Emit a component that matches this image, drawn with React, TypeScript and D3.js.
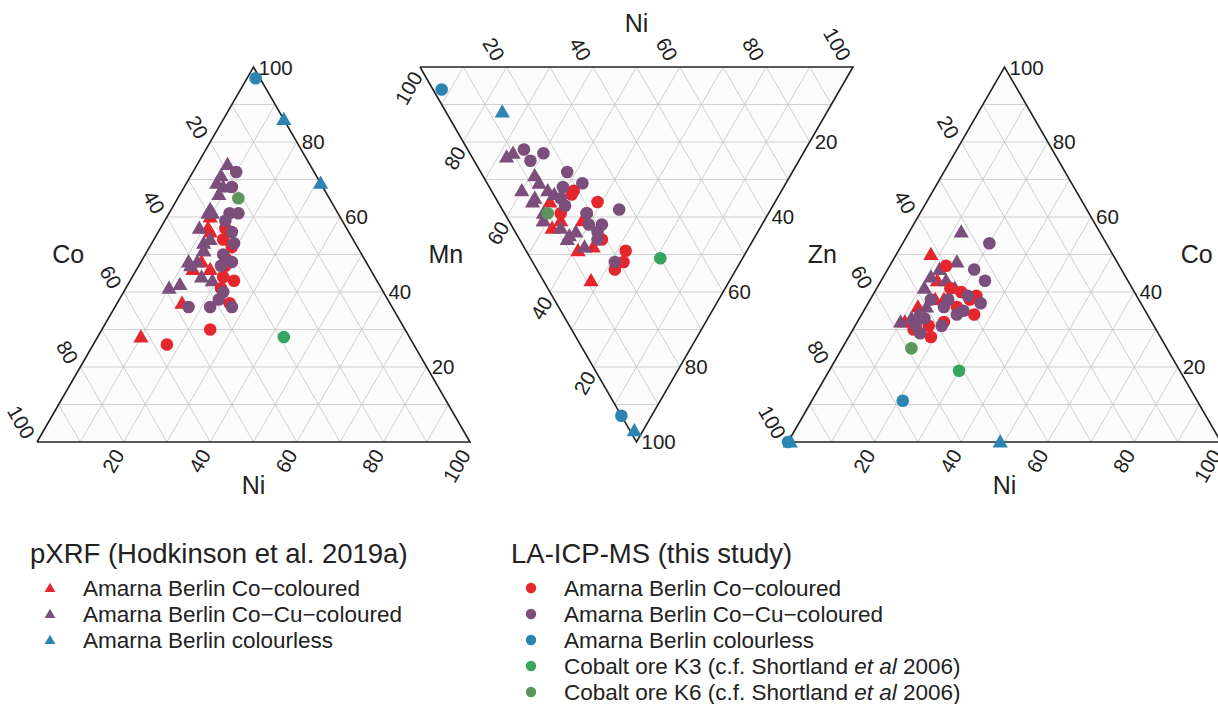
import React from "react";
import * as d3 from "d3";

type Comp = [number, number, number];

// ---------- Plot 1: components ordered [Co, Ni, Mn] ----------
const p1Components = ["Co", "Ni", "Mn"];
const p1PxrfCo: Comp[] = [[30,10,60],[32,11,57],[32,12,56],[36,13,51],[38,14,48],[41,13,46],[37,17,46],[48,15,37],[62,10,28]];
const p1PxrfCoCu: Comp[] = [[19,7,74],[22,7,71],[25,9,66],[23,9,68],[29,9,62],[30,9,61],[35,12,53],[33,13,54],[36,13,51],[41,11,48],[41,12,47],[40,16,44],[49,10,41],[46,12,42],[38,19,43],[39,13,48],[29,10,61],[24,7,69],[34,9,57]];
const p1PxrfColourless: Comp[] = [[0,14,86],[0,31,69]];
const p1IcpCo: Comp[] = [[28,15,57],[29,19,52],[32,19,49],[33,20,47],[35,21,44],[33,24,43],[37,22,41],[37,26,37],[45,25,30],[57,17,26],[30,16,54]];
const p1IcpCoCu: Comp[] = [[18,10,72],[21,11,68],[25,14,61],[23,16,61],[27,17,56],[28,19,53],[32,18,50],[34,19,47],[37,23,40],[42,22,36],[37,27,36],[47,17,36],[39,23,38],[27,14,59],[31,21,48]];
const p1IcpColourless: Comp[] = [[1,2,97]];
const p1OreK3: Comp[] = [[29,43,28]];
const p1OreK6: Comp[] = [[21,14,65]];

// ---------- Plot 2: components ordered [Mn, Ni, Zn] ----------
const p2Components = ["Mn", "Ni", "Zn"];
const p2PxrfCo: Comp[] = [[52,12,36],[47,12,41],[42,17,41],[48,9,43],[39,12,49],[36,16,48],[32,11,57],[51,8,41]];
const p2PxrfCoCu: Comp[] = [[68,8,24],[67,10,23],[59,12,29],[57,12,31],[60,7,33],[56,9,35],[54,13,33],[56,8,36],[52,9,39],[51,8,41],[52,14,34],[46,11,43],[43,11,46],[42,14,44],[38,14,48],[43,12,45]];
const p2PxrfColourless: Comp[] = [[75,13,12],[2,1,97]];
const p2IcpCo: Comp[] = [[48,19,33],[48,18,34],[41,23,36],[42,19,39],[48,13,39],[35,19,46],[28,23,49],[27,21,52],[28,18,54]];
const p2IcpCoCu: Comp[] = [[65,13,22],[62,13,25],[60,17,23],[52,20,28],[47,22,31],[51,17,32],[50,15,35],[48,15,37],[35,27,38],[42,19,39],[40,18,42],[37,21,42],[37,19,44],[36,18,46],[29,19,52]];
const p2IcpColourless: Comp[] = [[92,2,6],[7,0,93]];
const p2OreK3: Comp[] = [[19,30,51]];
const p2OreK6: Comp[] = [[51,10,39]];

// ---------- Plot 3: components ordered [Zn, Ni, Co] ----------
const p3Components = ["Zn", "Ni", "Co"];
const p3PxrfCo: Comp[] = [[42,8,50],[44,13,43],[47,15,38],[45,17,38],[52,12,36],[57,11,32]];
const p3PxrfCoCu: Comp[] = [[32,12,56],[37,15,48],[45,11,44],[42,15,43],[48,11,41],[41,18,41],[50,14,36],[55,12,33],[58,10,32],[53,13,34],[42,12,46]];
const p3PxrfColourless: Comp[] = [[51,49,0],[99.5,0.5,0]];
const p3IcpCo: Comp[] = [[40,13,47],[39,23,38],[37,24,39],[40,26,34],[43,21,36],[48,20,32],[52,17,31],[53,19,28],[40,20,40],[42,17,41],[56,14,30]];
const p3IcpCoCu: Comp[] = [[27,20,53],[34,20,46],[33,24,43],[39,22,39],[37,26,37],[44,22,34],[49,20,31],[55,16,29],[44,18,38],[42,23,35],[48,14,38],[46,18,36],[52,15,33],[55,14,31]];
const p3IcpColourless: Comp[] = [[68,21,11],[100,0,0]];
const p3OreK3: Comp[] = [[51,30,19]];
const p3OreK6: Comp[] = [[59,16,25]];

const tickValues = [20, 40, 60, 80, 100];
const gridValues = [10, 20, 30, 40, 50, 60, 70, 80, 90];

const pxrfTitle = "pXRF (Hodkinson et al. 2019a)";
const pxrfLabels = ["Amarna Berlin Co\u2212coloured", "Amarna Berlin Co\u2212Cu\u2212coloured", "Amarna Berlin colourless"];
const icpTitle = "LA-ICP-MS (this study)";
const icpLabels = ["Amarna Berlin Co\u2212coloured", "Amarna Berlin Co\u2212Cu\u2212coloured", "Amarna Berlin colourless", "Cobalt ore K3 (c.f. Shortland ", "Cobalt ore K6 (c.f. Shortland "];

const COL = {
  red: "#e5262d",
  purple: "#7b4e7b",
  blue: "#2b84b1",
  k3: "#36a55e",
  k6: "#5b965c",
};

const FONT = "'Liberation Sans', Arial, Helvetica, sans-serif";
const TEXT = "#222";

const SIDE = 433;
const H = SIDE * Math.sqrt(3) / 2;

type TickSpec = { edgeTo: number; rot: number; dx: number; dy: number; anchor: string };
type PlotSpec = {
  comps: string[];
  left: number;
  unitVerts: [number, number][];
  ticks: TickSpec[];
  titles: [number, number][];
  showTitle: boolean[];
  series: { data: Comp[]; shape: "tri" | "circ"; color: string }[];
};

const plots: PlotSpec[] = [
  {
    comps: p1Components, left: 37,
    unitVerts: [[0, 0], [1, 0], [0.5, 1]],
    ticks: [
      { edgeTo: 2, rot: 60, dx: -7, dy: -5, anchor: "end" },
      { edgeTo: 0, rot: -60, dx: -5, dy: 9, anchor: "end" },
      { edgeTo: 1, rot: 0, dx: 5, dy: 0, anchor: "start" },
    ],
    titles: [[-77, 0], [0, 43], [84, 0]],
    showTitle: [true, true, true],
    series: [
      { data: p1PxrfCo, shape: "tri", color: COL.red },
      { data: p1PxrfCoCu, shape: "tri", color: COL.purple },
      { data: p1PxrfColourless, shape: "tri", color: COL.blue },
      { data: p1IcpCo, shape: "circ", color: COL.red },
      { data: p1IcpCoCu, shape: "circ", color: COL.purple },
      { data: p1IcpColourless, shape: "circ", color: COL.blue },
      { data: p1OreK3, shape: "circ", color: COL.k3 },
      { data: p1OreK6, shape: "circ", color: COL.k6 },
    ],
  },
  {
    comps: p2Components, left: 420,
    unitVerts: [[0, 1], [1, 1], [0.5, 0]],
    ticks: [
      { edgeTo: 2, rot: -60, dx: -3, dy: 6, anchor: "end" },
      { edgeTo: 0, rot: 60, dx: -7, dy: -8, anchor: "end" },
      { edgeTo: 1, rot: 0, dx: 5, dy: 0, anchor: "start" },
    ],
    titles: [[-83, 0], [0, -44], [77, 0]],
    // Mn and Zn titles coincide with those of the neighbouring plots
    showTitle: [false, true, false],
    series: [
      { data: p2PxrfCo, shape: "tri", color: COL.red },
      { data: p2PxrfCoCu, shape: "tri", color: COL.purple },
      { data: p2PxrfColourless, shape: "tri", color: COL.blue },
      { data: p2IcpCo, shape: "circ", color: COL.red },
      { data: p2IcpCoCu, shape: "circ", color: COL.purple },
      { data: p2IcpColourless, shape: "circ", color: COL.blue },
      { data: p2OreK3, shape: "circ", color: COL.k3 },
      { data: p2OreK6, shape: "circ", color: COL.k6 },
    ],
  },
  {
    comps: p3Components, left: 788,
    unitVerts: [[0, 0], [1, 0], [0.5, 1]],
    ticks: [
      { edgeTo: 2, rot: 60, dx: -7, dy: -5, anchor: "end" },
      { edgeTo: 0, rot: -60, dx: -5, dy: 9, anchor: "end" },
      { edgeTo: 1, rot: 0, dx: 5, dy: 0, anchor: "start" },
    ],
    titles: [[-74, 0], [0, 43], [84, 0]],
    showTitle: [true, true, true],
    series: [
      { data: p3PxrfCo, shape: "tri", color: COL.red },
      { data: p3PxrfCoCu, shape: "tri", color: COL.purple },
      { data: p3PxrfColourless, shape: "tri", color: COL.blue },
      { data: p3IcpCo, shape: "circ", color: COL.red },
      { data: p3IcpCoCu, shape: "circ", color: COL.purple },
      { data: p3IcpColourless, shape: "circ", color: COL.blue },
      { data: p3OreK3, shape: "circ", color: COL.k3 },
      { data: p3OreK6, shape: "circ", color: COL.k6 },
    ],
  },
];

const TOP = 67;
const triPath = d3.symbol().type(d3.symbolTriangle).size(100)();
const legendTriPath = d3.symbol().type(d3.symbolTriangle).size(50)();

function Ternary({ spec }: { spec: PlotSpec }) {
  const xs = d3.scaleLinear().domain([0, 1]).range([spec.left, spec.left + SIDE]);
  const ys = d3.scaleLinear().domain([0, 1]).range([TOP + H, TOP]);
  const V = spec.unitVerts.map(([u, v]) => [xs(u), ys(v)] as [number, number]);
  const proj = (c: number[]): [number, number] => {
    const s = c[0] + c[1] + c[2];
    const w = c.map((d) => d / s);
    return [
      w[0] * V[0][0] + w[1] * V[1][0] + w[2] * V[2][0],
      w[0] * V[0][1] + w[1] * V[1][1] + w[2] * V[2][1],
    ];
  };
  const comp = (k: number, val: number, other: number): number[] => {
    const c = [0, 0, 0];
    c[k] = val;
    c[other] = 100 - val;
    return c;
  };
  const line = d3.line();
  const grid: [number, number][][] = [];
  for (let k = 0; k < 3; k++) {
    const others = [0, 1, 2].filter((i) => i !== k);
    for (const g of gridValues) {
      grid.push([proj(comp(k, g, others[0])), proj(comp(k, g, others[1]))]);
    }
  }
  return (
    <g>
      <path d={line([...V, V[0]]) || ""} fill="#fcfcfc" stroke="none" />
      {grid.map((seg, i) => (
        <path key={i} d={line(seg) || ""} stroke="#c4c4c4" strokeWidth={0.8} fill="none" />
      ))}
      <path d={line([...V, V[0]]) || ""} fill="none" stroke="#222" strokeWidth={1.6} strokeLinejoin="miter" />
      {spec.ticks.map((t, k) =>
        tickValues.map((v) => {
          const p = proj(comp(k, v, t.edgeTo));
          const x = p[0] + t.dx;
          const y = p[1] + t.dy;
          return (
            <text key={`${k}-${v}`} transform={`translate(${x},${y}) rotate(${t.rot})`}
              textAnchor={t.anchor} dominantBaseline="central" fontSize={20.5} fill={TEXT} fontFamily={FONT}>
              {v}
            </text>
          );
        })
      )}
      {spec.ticks.map((t, k) => {
        if (!spec.showTitle[k]) return null;
        const a = proj(comp(k, 100, t.edgeTo));
        const b = proj(comp(k, 0, t.edgeTo));
        const mx = (a[0] + b[0]) / 2 + spec.titles[k][0];
        const my = (a[1] + b[1]) / 2 + spec.titles[k][1];
        return (
          <text key={`t${k}`} x={mx} y={my} textAnchor="middle" dominantBaseline="central"
            fontSize={25} fill={TEXT} fontFamily={FONT}>
            {spec.comps[k]}
          </text>
        );
      })}
      {spec.series.map((s, si) =>
        s.data.map((d, i) => {
          const [x, y] = proj(d);
          return s.shape === "tri" ? (
            <path key={`${si}-${i}`} d={triPath || ""} transform={`translate(${x},${y + 1})`} fill={s.color} />
          ) : (
            <circle key={`${si}-${i}`} cx={x} cy={y} r={6.3} fill={s.color} />
          );
        })
      )}
    </g>
  );
}

export default function App() {
  const pxrfColors = [COL.red, COL.purple, COL.blue];
  const icpColors = [COL.red, COL.purple, COL.blue, COL.k3, COL.k6];
  const rowY = d3.scaleLinear().domain([0, 1]).range([588, 614]);
  return (
    <svg width={1218} height={704} style={{ position: "absolute", left: 0, top: 0, background: "#fff" }}>
      <rect width={1218} height={704} fill="#fff" />
      {plots.map((p, i) => (
        <Ternary key={i} spec={p} />
      ))}
      <text x={30} y={563} fontSize={27.5} fill={TEXT} fontFamily={FONT}>{pxrfTitle}</text>
      {pxrfLabels.map((l, i) => (
        <g key={l}>
          <path d={legendTriPath || ""} transform={`translate(50,${rowY(i) + 1})`} fill={pxrfColors[i]} />
          <text x={83} y={rowY(i)} dominantBaseline="central" fontSize={22.5} fill={TEXT} fontFamily={FONT}>{l}</text>
        </g>
      ))}
      <text x={511} y={563} fontSize={27.5} fill={TEXT} fontFamily={FONT}>{icpTitle}</text>
      {icpLabels.map((l, i) => (
        <g key={l}>
          <circle cx={531} cy={rowY(i)} r={5.2} fill={icpColors[i]} />
          <text x={564} y={rowY(i)} dominantBaseline="central" fontSize={22.5} fill={TEXT} fontFamily={FONT}>
            {l}
            {i >= 3 ? <tspan fontStyle="italic">et al</tspan> : null}
            {i >= 3 ? " 2006)" : null}
          </text>
        </g>
      ))}
    </svg>
  );
}
